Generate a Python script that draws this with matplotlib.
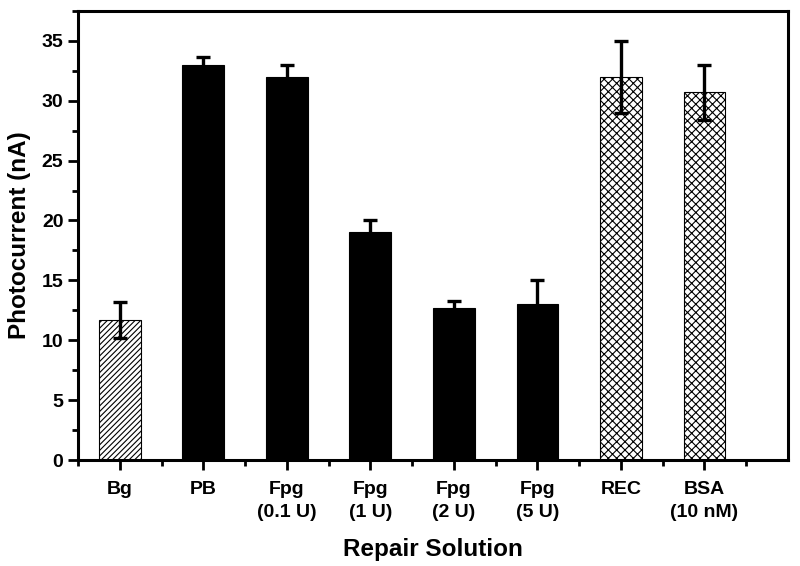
import matplotlib
matplotlib.use("Agg")
import matplotlib.pyplot as plt
from matplotlib.ticker import MultipleLocator

plt.rcParams['font.family'] = ['Liberation Sans', 'DejaVu Sans']
plt.rcParams['font.weight'] = 'bold'
plt.rcParams['hatch.linewidth'] = 0.8
plt.rcParams['hatch.color'] = '#333333'

# data
labels = ["Bg", "PB", "Fpg\n(0.1 U)", "Fpg\n(1 U)", "Fpg\n(2 U)", "Fpg\n(5 U)", "REC", "BSA\n(10 nM)"]
values = [11.7, 33.0, 32.0, 19.0, 12.7, 13.0, 32.0, 30.7]
errors = [1.5, 0.6, 1.0, 1.0, 0.6, 2.0, 3.0, 2.3]
hatches = ["//////", "", "", "", "", "", "xxxx", "xxxx"]
fills = ["white", "black", "black", "black", "black", "black", "white", "white"]

fig = plt.figure(figsize=(8, 5.66), dpi=100)
ax = fig.add_axes([0.0975, 0.187, 0.8875, 0.794])

x = list(range(1, len(labels) + 1))
for xi, v, e, h, c in zip(x, values, errors, hatches, fills):
    ax.bar(xi, v, width=0.5, color=c, edgecolor='black', hatch=h, linewidth=0.8, zorder=2)
    ax.errorbar(xi, v, yerr=e, fmt='none', ecolor='black', elinewidth=2.4,
                capsize=5, capthick=2.4, zorder=3)

ax.set_xlim(0.5, 9)
ax.set_ylim(0, 37.5)
ax.set_xticks(x)
ax.set_xticklabels(labels, fontsize=14, fontweight='bold', linespacing=1.45)
ax.xaxis.set_minor_locator(MultipleLocator(1, offset=0.5))
ax.yaxis.set_major_locator(MultipleLocator(5))
ax.yaxis.set_minor_locator(MultipleLocator(2.5))
for lbl in ax.get_yticklabels():
    lbl.set_fontsize(14)
    lbl.set_fontweight('bold')

ax.tick_params(axis='x', which='major', pad=8)
ax.tick_params(which='major', direction='out', length=7, width=2, top=False, right=False)
ax.tick_params(which='minor', direction='out', length=4.5, width=2, top=False, right=False)
for sp in ax.spines.values():
    sp.set_linewidth(2.2)

ax.set_xlabel("Repair Solution", fontsize=17.5, fontweight='bold', labelpad=12)
ax.set_ylabel("Photocurrent (nA)", fontsize=17.5, fontweight='bold', labelpad=8)

fig.savefig("out.png", dpi=100)
